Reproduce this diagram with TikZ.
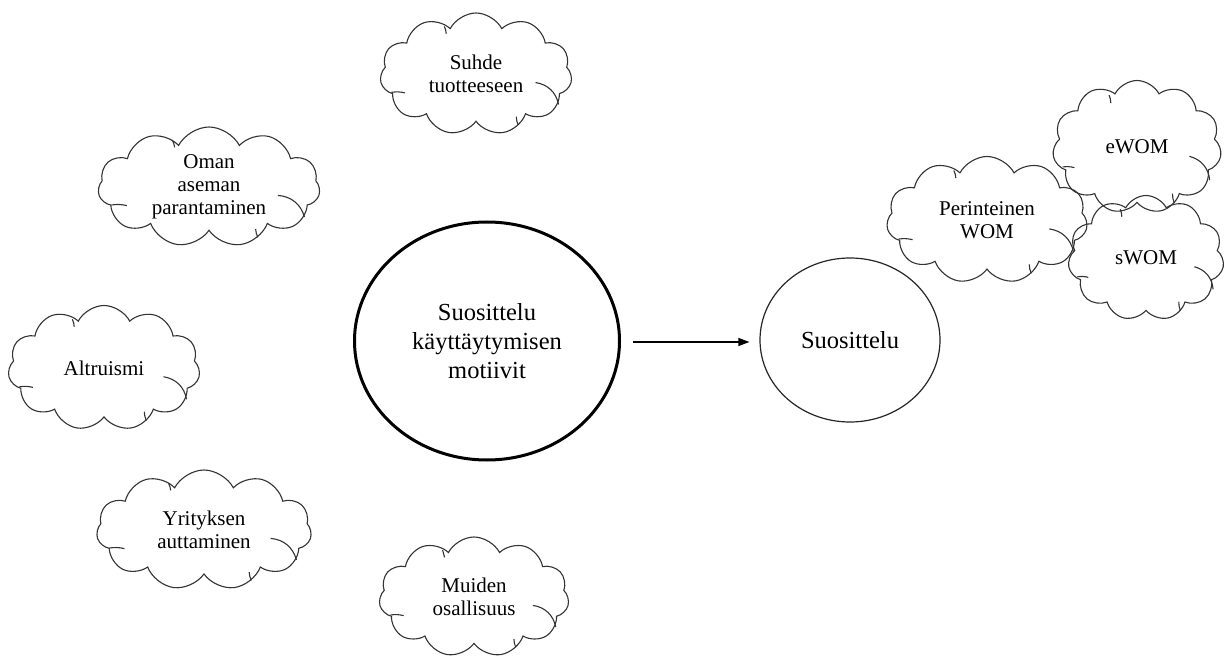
\documentclass[tikz,border=0pt]{standalone}
\usepackage{fontspec}
\setmainfont{Liberation Serif}
\usetikzlibrary{shapes.symbols,shapes.geometric,arrows.meta}
\tikzset{
  cl/.style={cloud, draw=black!80, line width=1.1pt, cloud puffs=11, cloud puff arc=125,
    cloud ignores aspect, align=center, inner sep=0pt,
    font=\fontsize{21}{23}\selectfont},
  crease/.style={draw=black!80, line width=1.1pt},
  bigell/.style={ellipse, draw=black, line width=3pt, align=center, inner sep=0pt,
    font=\fontsize{24.5}{29}\selectfont},
  smallell/.style={ellipse, draw=black!85, line width=1.2pt, align=center, inner sep=0pt,
    font=\fontsize{24.5}{29}\selectfont},
  arr/.style={-{Triangle[length=11pt,width=8pt]}, line width=1.2pt}
}
\newcommand{\cloudcreases}[3]{%
  \begin{scope}[shift={(#1.center)}, x=#2pt, y=-#3pt]
    \draw[crease] (-0.88,0.30) to[bend left=10] (-0.74,0.31);
    \draw[crease] (0.62,0.14) to[bend left=35] (0.86,0.50);
    \draw[crease] (0.42,0.70) to[bend right=10] (0.44,0.84);
    \draw[crease] (-0.33,-0.78) to[bend left=10] (-0.31,-0.66);
  \end{scope}}
\begin{document}
\begin{tikzpicture}[x=1pt,y=-1pt]
\useasboundingbox (0,0) rectangle (1224,668);
\fill[white] (0,0) rectangle (1224,668);
\node[cl, minimum width=192pt, minimum height=122pt] (suhde) at (476,74) {Suhde\\tuotteeseen};
\node[cl, minimum width=222pt, minimum height=120pt] (oman) at (209,187) {Oman\\aseman\\parantaminen};
\node[cl, minimum width=192pt, minimum height=125pt] (altr) at (104,368) {Altruismi};
\node[cl, minimum width=215pt, minimum height=120pt] (yrit) at (204,530) {Yrityksen\\auttaminen};
\node[cl, minimum width=190pt, minimum height=120pt] (muid) at (474,597) {Muiden\\osallisuus};
\node[bigell, minimum width=265pt, minimum height=238pt] (mot) at (487,341) {Suosittelu\\käyttäytymisen\\motiivit};
\node[smallell, minimum width=180pt, minimum height=164pt] (suos) at (850,340) {Suosittelu};
\node[cl, minimum width=201pt, minimum height=127pt] (per) at (987,220) {Perinteinen\\WOM};
\node[cl, minimum width=169pt, minimum height=133pt] (ewom) at (1137,147) {eWOM};
\node[cl, minimum width=156pt, minimum height=125pt] (swom) at (1146,258) {sWOM};
\cloudcreases{suhde}{96}{61}
\cloudcreases{oman}{111}{60}
\cloudcreases{altr}{96}{62.5}
\cloudcreases{yrit}{107.5}{60}
\cloudcreases{muid}{95}{60}
\cloudcreases{per}{100.5}{63.5}
\cloudcreases{ewom}{84.5}{66.5}
\cloudcreases{swom}{78}{62.5}
\draw[arr, shorten <=12pt, shorten >=10pt] (mot.east |- 0,342) -- (suos.west |- 0,342);
\end{tikzpicture}
\end{document}
